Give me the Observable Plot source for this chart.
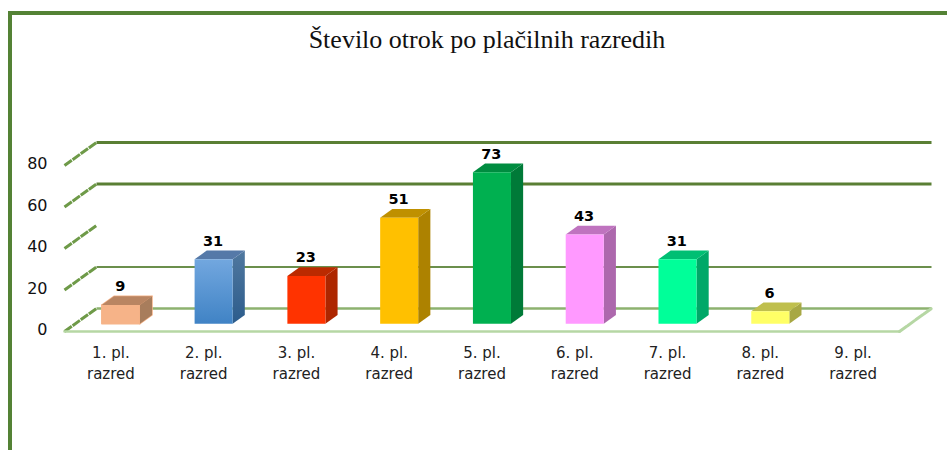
<!DOCTYPE html>
<html>
<head>
<meta charset="utf-8">
<script src="https://cdn.jsdelivr.net/npm/d3@7"></script>
<script src="https://cdn.jsdelivr.net/npm/@observablehq/plot@0.6"></script>
<style>
  html, body { margin: 0; padding: 0; background: #fff; overflow: hidden; }
  #wrap { position: relative; width: 947px; height: 450px; }
  #frame { position: absolute; left: 8px; top: 11px; right: 0; bottom: 0; border-left: 4px solid #548235; border-top: 4px solid #548235; box-sizing: border-box; }
  #title { position: absolute; left: 0; top: 25px; width: 974px; text-align: center; font: 26px/30px "Liberation Serif", serif; color: #111; }
  svg { display: block; }
</style>
</head>
<body>
<div id="wrap">
  <div id="frame"></div>
  <div id="title">Število otrok po plačilnih razredih</div>
  <div id="chart"></div>
</div>
<script>
const categories = ["1. pl.\nrazred","2. pl.\nrazred","3. pl.\nrazred","4. pl.\nrazred","5. pl.\nrazred","6. pl.\nrazred","7. pl.\nrazred","8. pl.\nrazred","9. pl.\nrazred"];
const values = [9, 31, 23, 51, 73, 43, 31, 6, null];
const frontColors = ["#F6B388","url(#blueFront)","#FF3300","#FFC000","#00B050","#FF99FF","#00FF99","#FFFF66","#FFFFFF"];
const topColors   = ["#B98562","#5579A8","#BB2A00","#BF9000","#008C40","#BF73BF","#00BF73","#BFBF4D","#FFFFFF"];
const sideColors  = ["#A87D5C","url(#blueSide)","#AD2600","#AD8200","#007A38","#AD68AD","#00A868","#A8A844","#FFFFFF"];
const yTicks = [0, 20, 40, 60, 80];
const backGridValues = [0, 20, 60, 80];
const backGridColors = ["#8DB26F","#6B8F4C","#5A7F34","#5A7F34"];
const backGridWidths = [2.5, 2, 3, 3];

// Oblique projection of the chart box, in data units
const boxDepthX = 0.345, boxDepthY = 11.1;
const nearDepth = 0.34, farDepth = 0.72;
const barStart = 0.285, barWidth = 0.41;
const px = (x, d) => x + d * boxDepthX;
const py = (v, d) => v + d * boxDepthY;

const bars = values.map((v, i) => ({i, v})).filter(d => d.v != null);
const faces = [];
for (const {i, v} of bars) {
  const l = i + barStart, r = l + barWidth;
  const n = nearDepth, f = farDepth;
  const add = (face, fill, pts) => pts.forEach(([x, val, d]) =>
    faces.push({id: face + i, bar: i, fill, x: px(x, d), y: py(val, d)}));
  add("side", sideColors[i], [[r,0,n],[r,0,f],[r,v,f],[r,v,n]]);
  add("top", topColors[i], [[l,v,n],[l,v,f],[r,v,f],[r,v,n]]);
  add("front", frontColors[i], [[l,0,n],[r,0,n],[r,v,n],[l,v,n]]);
}
const gridPts = backGridValues.flatMap((v, k) => [0, categories.length].map(x => ({
  id: v, x: px(x, 1), y: py(v, 1), stroke: backGridColors[k], sw: backGridWidths[k]
})));
const slants = yTicks.flatMap(v => [0, 1].map(d => ({id: v, x: px(0, d), y: py(v, d)})));
const rightSlant = [0, 1].map(d => ({x: px(categories.length, d), y: py(0, d)}));
const floorFront = [0, categories.length].map(x => ({x, y: 0}));

const chart = Plot.plot({
  width: 947, height: 450,
  marginLeft: 64, marginRight: 48, marginTop: 165, marginBottom: 119,
  x: {domain: [0, categories.length], axis: null},
  y: {domain: [0, 80], axis: null},
  color: {type: "identity"},
  style: {background: "transparent", overflow: "visible"},
  marks: [
    () => {
      const ns = "http://www.w3.org/2000/svg";
      const defs = document.createElementNS(ns, "defs");
      const grad = (id, a, b) => {
        const g = document.createElementNS(ns, "linearGradient");
        g.setAttribute("id", id); g.setAttribute("gradientUnits", "objectBoundingBox");
        g.setAttribute("x1", 0); g.setAttribute("y1", 0); g.setAttribute("x2", 0); g.setAttribute("y2", 1);
        [[0, a], [1, b]].forEach(([o, c]) => {
          const s = document.createElementNS(ns, "stop");
          s.setAttribute("offset", o); s.setAttribute("stop-color", c); g.appendChild(s);
        });
        defs.appendChild(g);
      };
      grad("blueFront", "#72A7DF", "#4083C5");
      grad("blueSide", "#50789F", "#2C5C8C");
      return defs;
    },
    Plot.line(gridPts, {x: "x", y: "y", z: "id", stroke: "stroke", strokeWidth: "sw", strokeLinecap: "butt"}),
    Plot.line(slants, {x: "x", y: "y", z: "id", stroke: "#6E9A48", strokeWidth: 3, strokeDasharray: "9 1", strokeLinecap: "butt"}),
    Plot.line(floorFront, {x: "x", y: "y", stroke: "#B6D7A4", strokeWidth: 2.5}),
    Plot.line(rightSlant, {x: "x", y: "y", stroke: "#B6D7A4", strokeWidth: 3, strokeDasharray: "9 1"}),
    Plot.line(faces.filter(d => d.bar === 0), {x: "x", y: "y", z: "id", fill: "none", stroke: frontColors[0], strokeWidth: 1.5, curve: "linear-closed"}),
    Plot.line(faces, {x: "x", y: "y", z: "id", fill: "fill", stroke: "none", curve: "linear-closed"}),
    Plot.axisY({ticks: yTicks, tickSize: 0, tickPadding: 17, dy: -1.5, fontSize: 16, fill: "#111", fontFamily: "DejaVu Sans", label: null}),
    Plot.text(categories, {
      x: (d, i) => i + 0.5, y: () => 0, text: d => d, lineAnchor: "top", dy: 11.5, lineHeight: 1.4,
      fontSize: 15, fill: "#222", fontFamily: "DejaVu Sans"
    }),
    Plot.text(bars, {
      x: d => px(d.i + barStart + barWidth / 2, 0.32), y: d => py(d.v, farDepth), text: d => String(d.v),
      dy: -9.5, fontSize: 14.5, fontWeight: "bold", fill: "#000", fontFamily: "DejaVu Sans"
    })
  ]
});
document.getElementById("chart").appendChild(chart);
</script>
</body>
</html>
